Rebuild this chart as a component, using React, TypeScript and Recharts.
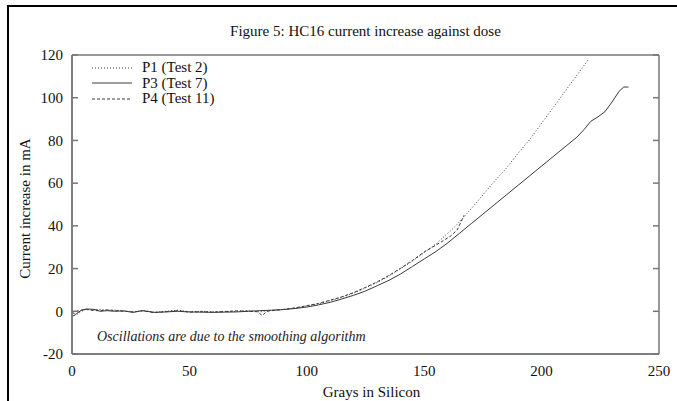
import { LineChart, Line, XAxis, YAxis } from 'recharts'

// dose (Gy in Si) and current increase (mA)
const doseP1 = [0, 1, 2, 4, 6, 9, 12, 15, 18, 22, 26, 30, 35, 40, 45, 50, 55, 60, 65, 70, 75, 80, 85, 90, 95, 100, 105, 110, 115, 120, 125, 130, 135, 140, 145, 150, 155, 160, 163, 166, 170, 175, 180, 185, 190, 195, 200, 205, 210, 215, 220]
const currentP1 = [-1, -2, -1.5, 0, 0.8, 0.6, 0.9, 0.4, 0.6, 0.2, -0.4, 0.4, -0.5, 0, 0.5, -0.2, 0, -0.3, -0.2, 0, 0.3, -0.3, 0.5, 0.8, 1.5, 2.5, 3.5, 5, 6.5, 8.5, 11, 13.5, 16.5, 20, 23.5, 27.5, 31.5, 36.5, 39.5, 43, 48, 54.5, 61, 67, 74, 80.5, 88, 95.5, 103, 110.5, 118]

const doseP3 = [0, 1, 2, 4, 6, 8, 10, 12, 15, 18, 22, 26, 30, 35, 40, 45, 50, 55, 60, 65, 70, 75, 80, 85, 90, 95, 100, 105, 110, 115, 120, 125, 130, 135, 140, 145, 150, 155, 160, 165, 170, 175, 180, 185, 190, 195, 200, 205, 210, 215, 218, 221, 224, 227, 230, 233, 235, 237]
const currentP3 = [-2.5, -1.8, -1, 0.5, 1, 1, 0.8, 0, 0.3, 0, 0.2, -0.5, 0.3, -0.5, -0.3, 0, -0.3, -0.4, -0.5, -0.4, -0.3, 0, 0.3, 0.5, 0.8, 1.3, 2, 3, 4.2, 5.8, 7.5, 9.5, 12, 14.5, 17.5, 21, 24.5, 28, 32, 36.5, 41, 45.5, 50, 54.5, 59, 63.5, 68, 72.5, 77, 81.5, 85, 89, 91, 93.5, 98, 103, 105, 105]

const doseP4 = [0, 1, 2, 4, 6, 9, 12, 15, 18, 22, 26, 30, 35, 40, 45, 50, 55, 60, 65, 70, 75, 79, 81, 83, 86, 90, 95, 100, 105, 110, 115, 120, 125, 130, 135, 140, 145, 150, 155, 158, 161, 164, 167]
const currentP4 = [-0.5, -1, 0, 0.5, 1, 0.4, 0.2, 0.7, 0.3, 0, -0.3, 0.2, -0.6, -0.2, 0.3, -0.4, -0.2, -0.4, -0.1, 0.2, 0, -0.2, -2, 0, 0.4, 0.9, 1.6, 2.6, 3.7, 5.2, 6.8, 8.8, 11.2, 13.8, 16.8, 20.2, 23.8, 27.8, 31, 33, 35, 38, 45]

const xTicks = [0, 50, 100, 150, 200, 250]
const yTicks = [-20, 0, 20, 40, 60, 80, 100, 120]

const series = [
  { key: 'p1', name: 'P1 (Test 2)', dose: doseP1, current: currentP1, dash: '1 2' },
  { key: 'p3', name: 'P3 (Test 7)', dose: doseP3, current: currentP3, dash: undefined },
  { key: 'p4', name: 'P4 (Test 11)', dose: doseP4, current: currentP4, dash: '3 2' },
]

const FONT = '"Liberation Serif", "Times New Roman", serif'
const LINE = '#3a3a3a'
const AXIS = '#777'

function toRows(dose: number[], current: number[]) {
  return dose.map((d, i) => ({ dose: d, current: current[i] }))
}

const noLabel = () => ''

export default function App() {
  const tickStyle = { fontFamily: FONT, fontSize: 15, fill: '#111' }
  // mirrored axes carry only the inward tick marks (gnuplot style, all four sides)
  const tickOnly = { mirror: true, allowDataOverflow: true, interval: 0 as const, tickSize: 6, tickFormatter: noLabel, stroke: AXIS, strokeWidth: 1.5 }

  return (
    <div style={{ position: 'relative', width: 677, height: 401, overflow: 'hidden', background: '#fff' }}>
      <style>{'body{margin:0;overflow:hidden}'}</style>
      {/* page frame */}
      <div style={{ position: 'absolute', left: 7, top: 5, right: -10, bottom: -10, borderLeft: '2px solid #000', borderTop: '2px solid #000' }} />

      <div style={{ position: 'absolute', left: 72, top: 22, width: 587, textAlign: 'center', fontFamily: FONT, fontSize: 15, lineHeight: '18px', color: '#111' }}>
        Figure 5: HC16 current increase against dose
      </div>

      <div style={{ position: 'absolute', left: 0, top: 0 }}>
        <LineChart width={677} height={401} margin={{ top: 55, right: 18, bottom: 0, left: 0 }}>
          <XAxis
            dataKey="dose"
            type="number"
            domain={[0, 250]}
            ticks={xTicks}
            interval={0}
            allowDataOverflow
            height={47}
            tickLine={false}
            tickSize={0}
            tickMargin={11}
            stroke={AXIS}
            strokeWidth={1.5}
            tick={tickStyle}
            label={{
              content: ({ viewBox }: any) => (
                <text x={viewBox.x + viewBox.width / 2 + 6} y={viewBox.y + 43} textAnchor="middle" fontFamily={FONT} fontSize={15} fill="#111">
                  Grays in Silicon
                </text>
              ),
            }}
          />
          <XAxis xAxisId="bottomTicks" type="number" domain={[0, 250]} ticks={xTicks} orientation="bottom" height={1} {...tickOnly} />
          <XAxis xAxisId="topTicks" type="number" domain={[0, 250]} ticks={xTicks} orientation="top" height={1} {...tickOnly} />
          <YAxis
            type="number"
            domain={[-20, 120]}
            ticks={yTicks}
            interval={0}
            allowDataOverflow
            width={72}
            tickLine={false}
            tickSize={0}
            tickMargin={9}
            stroke={AXIS}
            strokeWidth={1.5}
            tick={tickStyle}
            label={{
              content: ({ viewBox }: any) => {
                const cx = 25
                const cy = viewBox.y + viewBox.height / 2 + 4
                return (
                  <text x={cx} y={cy} transform={`rotate(-90, ${cx}, ${cy})`} textAnchor="middle" dominantBaseline="central" fontFamily={FONT} fontSize={15} fill="#111">
                    Current increase in mA
                  </text>
                )
              },
            }}
          />
          <YAxis yAxisId="leftTicks" type="number" domain={[-20, 120]} ticks={yTicks} orientation="left" width={1} {...tickOnly} />
          <YAxis yAxisId="rightTicks" type="number" domain={[-20, 120]} ticks={yTicks} orientation="right" width={1} {...tickOnly} />

          {series.map(s => (
            <Line
              key={s.key}
              data={toRows(s.dose, s.current)}
              dataKey="current"
              name={s.name}
              type="linear"
              stroke={LINE}
              strokeWidth={1}
              strokeDasharray={s.dash}
              dot={false}
              isAnimationActive={false}
            />
          ))}
        </LineChart>
      </div>

      {/* key, top left inside the plot */}
      <div style={{ position: 'absolute', left: 92, top: 60, fontFamily: FONT, fontSize: 15, color: '#111' }}>
        {series.map(s => (
          <div key={s.key} style={{ display: 'flex', alignItems: 'center', height: 15.5 }}>
            <svg width={40} height={4} style={{ marginRight: 10 }}>
              <line x1={0} y1={2} x2={40} y2={2} stroke={LINE} strokeWidth={1} strokeDasharray={s.dash} />
            </svg>
            <span style={{ lineHeight: '15px' }}>{s.name}</span>
          </div>
        ))}
      </div>

      <div style={{ position: 'absolute', left: 97, top: 328, fontFamily: FONT, fontSize: 14, fontStyle: 'italic', lineHeight: '18px', color: '#222' }}>
        Oscillations are due to the smoothing algorithm
      </div>
    </div>
  )
}
